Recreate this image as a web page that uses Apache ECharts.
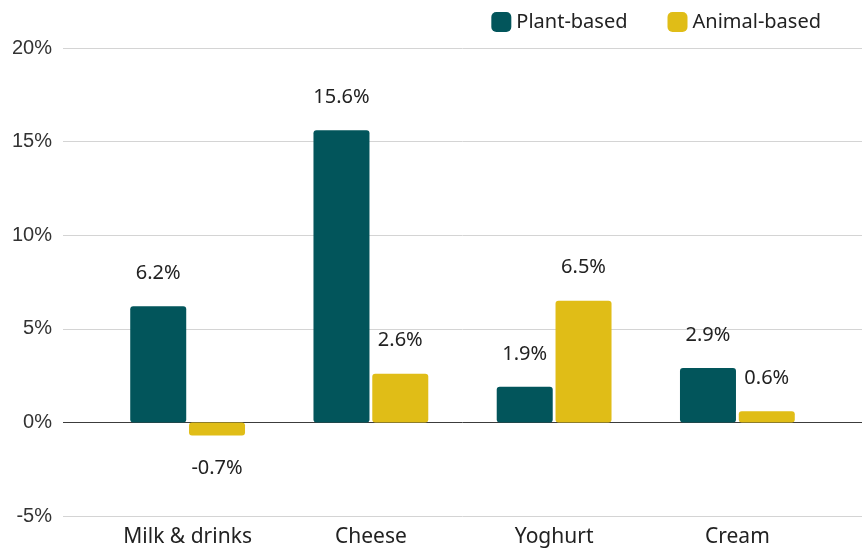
<!DOCTYPE html>
<html>
<head>
<meta charset="utf-8">
<script src="https://cdn.jsdelivr.net/npm/echarts@6/dist/echarts.min.js"></script>
<style>
  html, body { margin: 0; padding: 0; background: #fff; }
  #chart { width: 866px; height: 548px; }
</style>
</head>
<body>
<div id="chart"></div>
<script>
const categories = ['Milk & drinks', 'Cheese', 'Yoghurt', 'Cream']
const plantBased = [6.2, 15.6, 1.9, 2.9]
const animalBased = [-0.7, 2.6, 6.5, 0.6]
const yTicks = [-5, 0, 5, 10, 15, 20]

const labelFont = 'Noto Sans'
const yMin = yTicks[0]
const yMax = yTicks[yTicks.length - 1]

// negative bars get their label underneath
const toItems = (arr) => arr.map(v => ({
  value: v,
  label: { position: v < 0 ? 'bottom' : 'top' }
}))

// zero line darker than the other gridlines
const gridColors = yTicks.map(t => t === 0 ? '#3c3c3c' : '#d4d4d4')

const barLabel = {
  show: true,
  distance: 23,
  fontFamily: labelFont,
  fontSize: 20,
  color: '#222',
  formatter: p => p.value + '%'
}

const chart = echarts.init(document.getElementById('chart'))

chart.setOption({
  animation: false,
  legend: {
    top: 7,
    right: 40,
    itemWidth: 20,
    itemHeight: 20,
    itemGap: 40,
    icon: 'roundRect',
    textStyle: { fontFamily: labelFont, fontSize: 20, color: '#222' },
    data: ['Plant-based', 'Animal-based']
  },
  grid: [
    { left: 63, right: 4, top: 48, bottom: 32 },   // gridlines + y labels
    { left: 96, right: 37, top: 48, bottom: 32 }   // bars
  ],
  xAxis: [
    { type: 'value', gridIndex: 0, show: false, min: 0, max: 1 },
    {
      type: 'category',
      gridIndex: 1,
      data: categories,
      axisLine: { show: false },
      axisTick: { show: false },
      axisLabel: { fontFamily: labelFont, fontSize: 21, color: '#222', margin: 11 }
    }
  ],
  yAxis: [
    {
      type: 'value',
      gridIndex: 0,
      min: yMin,
      max: yMax,
      interval: 5,
      axisLine: { show: false },
      axisTick: { show: false },
      axisLabel: {
        formatter: '{value}%',
        fontFamily: 'Liberation Sans',
        fontSize: 20,
        color: '#333',
        margin: 11
      },
      splitLine: { lineStyle: { color: gridColors, width: 1 } }
    },
    {
      type: 'value',
      gridIndex: 1,
      min: yMin,
      max: yMax,
      interval: 5,
      show: false,
      splitLine: { show: false }
    }
  ],
  series: [
    {
      name: 'Plant-based',
      type: 'bar',
      xAxisIndex: 1,
      yAxisIndex: 1,
      data: toItems(plantBased),
      barWidth: 56,
      barGap: '5%',
      itemStyle: { color: '#02555B', borderRadius: 3 },
      label: barLabel
    },
    {
      name: 'Animal-based',
      type: 'bar',
      xAxisIndex: 1,
      yAxisIndex: 1,
      data: toItems(animalBased),
      barWidth: 56,
      itemStyle: { color: '#E0BD17', borderRadius: 3 },
      label: barLabel
    }
  ]
})
</script>
</body>
</html>
